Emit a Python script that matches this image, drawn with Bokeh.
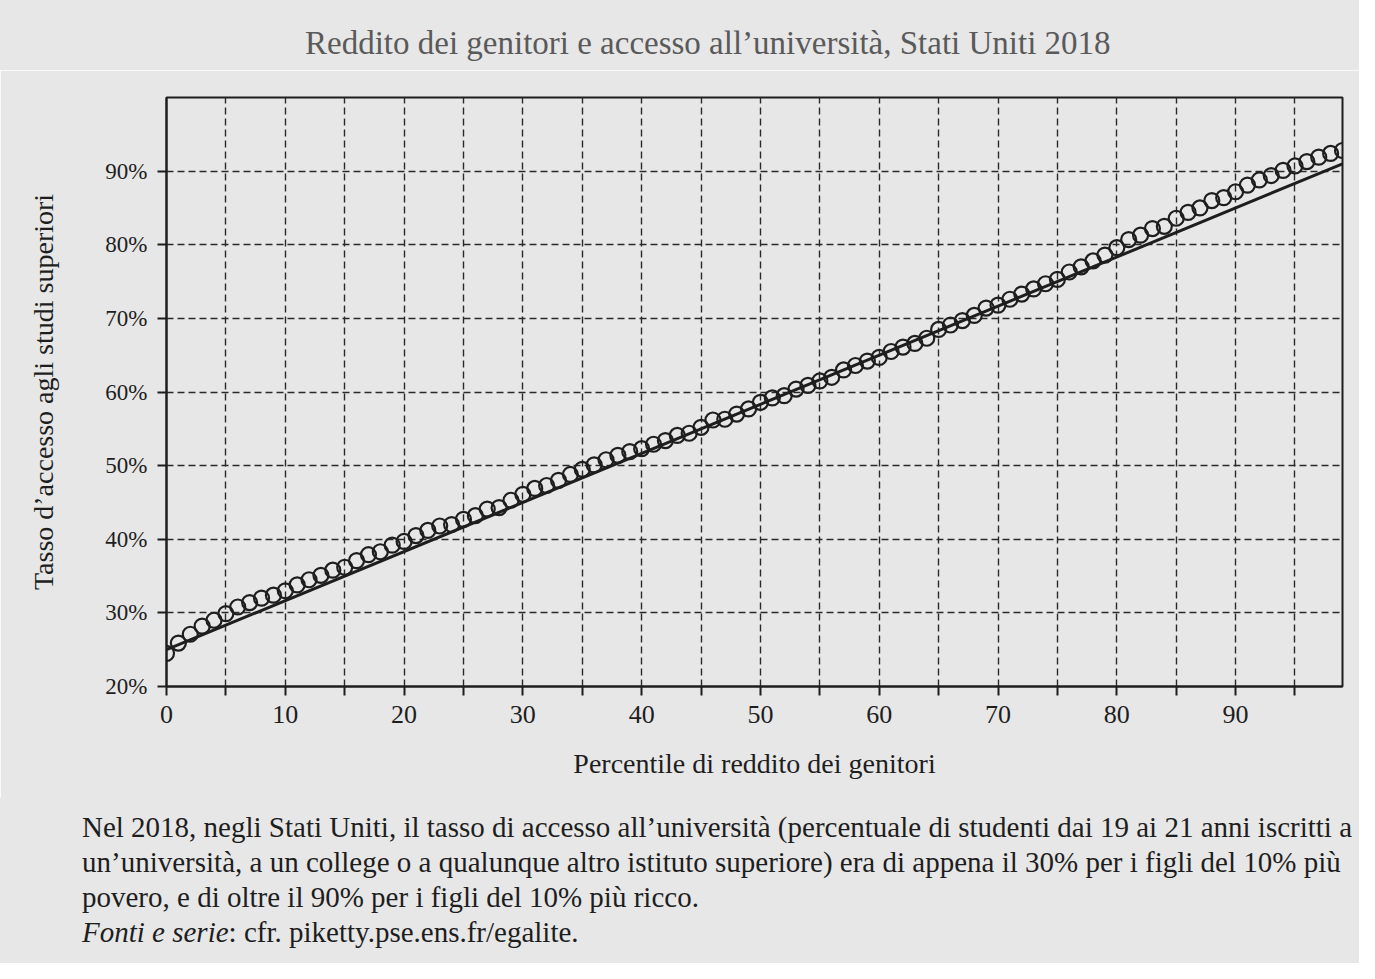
from bokeh.plotting import figure
from bokeh.models import FixedTicker, Div
from bokeh.layouts import column
from bokeh.embed import file_html
from bokeh.resources import INLINE

# ---- data ----
percentile = list(range(0, 100))
access_rate = [
    24.5, 25.9, 27.1, 28.2, 29.0, 29.9, 30.8, 31.4, 32.0, 32.4,
    33.0, 33.8, 34.5, 35.1, 35.8, 36.2, 37.1, 37.9, 38.3, 39.2,
    39.7, 40.5, 41.2, 41.8, 42.0, 42.7, 43.2, 44.1, 44.3, 45.3,
    46.1, 46.9, 47.3, 48.0, 48.8, 49.5, 50.1, 50.8, 51.4, 51.9,
    52.3, 52.9, 53.4, 54.1, 54.4, 55.2, 56.2, 56.3, 57.0, 57.7,
    58.6, 59.2, 59.5, 60.4, 60.9, 61.5, 62.0, 63.0, 63.6, 64.2,
    64.7, 65.5, 66.1, 66.6, 67.3, 68.5, 69.1, 69.7, 70.4, 71.4,
    71.8, 72.6, 73.3, 74.0, 74.7, 75.3, 76.3, 77.0, 77.8, 78.6,
    79.6, 80.7, 81.3, 82.2, 82.5, 83.6, 84.4, 85.0, 86.0, 86.4,
    87.2, 88.1, 88.8, 89.4, 90.1, 90.7, 91.3, 91.9, 92.4, 92.8,
]
trend_x = [0, 99]
trend_y = [25.0, 91.0]

x_ticks = list(range(0, 100, 5))
x_labels = {t: (str(t) if t % 10 == 0 else "") for t in x_ticks}
y_ticks = [20, 30, 40, 50, 60, 70, 80, 90]
y_labels = {t: f"{t}%" for t in y_ticks}

title_text = "Reddito dei genitori e accesso all\u2019università, Stati Uniti 2018"
x_title = "Percentile di reddito dei genitori"
y_title = "Tasso d\u2019accesso agli studi superiori"
caption_lines = [
    "Nel 2018, negli Stati Uniti, il tasso di accesso all\u2019università (percentuale di studenti dai 19 ai 21 anni iscritti a",
    "un\u2019università, a un college o a qualunque altro istituto superiore) era di appena il 30% per i figli del 10% più",
    "povero, e di oltre il 90% per i figli del 10% più ricco.",
]
source_italic = "Fonti e serie"
source_rest = ": cfr. piketty.pse.ens.fr/egalite."

FONT = "Liberation Serif"
INK = "#1e1e1e"
PAPER = "#e7e7e7"

W = 1359
TITLE_H = 70
FIG_H = 728
CAP_H = 963 - TITLE_H - FIG_H

# title above the chart
title_div = Div(
    text=f'<div style="font-family:\'{FONT}\';font-size:33px;line-height:40px;'
         f'color:#5a5a5a;white-space:nowrap;padding:23px 0 0 305px;">{title_text}</div>',
    width=W, height=TITLE_H, margin=(0, 0, 0, 0),
    styles={"background-color": PAPER},
)

p = figure(
    width=W, height=FIG_H,
    x_range=(0, 99), y_range=(20, 100),
    output_backend="svg", toolbar_location=None,
    min_border_left=166, min_border_right=17,
    min_border_top=27, min_border_bottom=112,
)
p.background_fill_color = PAPER
p.border_fill_color = PAPER
p.outline_line_color = INK
p.outline_line_width = 2

# grid
p.xgrid.ticker = FixedTicker(ticks=x_ticks)
p.ygrid.ticker = FixedTicker(ticks=y_ticks)
for g in (p.xgrid, p.ygrid):
    g.grid_line_color = "#2a2a2a"
    g.grid_line_dash = "7 4"
    g.grid_line_width = 1.4

# axes
p.xaxis.ticker = FixedTicker(ticks=x_ticks)
p.xaxis.major_label_overrides = x_labels
p.yaxis.ticker = FixedTicker(ticks=y_ticks)
p.yaxis.major_label_overrides = y_labels
for ax in (p.xaxis, p.yaxis):
    ax.axis_line_color = INK
    ax.axis_line_width = 2
    ax.major_tick_line_color = INK
    ax.major_tick_line_width = 2
    ax.major_tick_out = 9
    ax.major_tick_in = 0
    ax.minor_tick_line_color = None
    ax.major_label_text_font = FONT
    ax.major_label_text_color = INK
    ax.axis_label_text_font = FONT
    ax.axis_label_text_font_style = "normal"
    ax.axis_label_text_color = INK
p.xaxis.major_label_text_font_size = "26px"
p.yaxis.major_label_text_font_size = "23px"
p.xaxis.major_label_standoff = 10
p.yaxis.major_label_standoff = 10
p.xaxis.axis_label = x_title
p.yaxis.axis_label = y_title
p.xaxis.axis_label_text_font_size = "28px"
p.yaxis.axis_label_text_font_size = "28px"
p.xaxis.axis_label_standoff = 22
p.yaxis.axis_label_standoff = 43

# data
p.line(trend_x, trend_y, line_color=INK, line_width=3)
p.scatter(percentile, access_rate, marker="circle", size=15,
          fill_color=None, line_color=INK, line_width=2.2)

# caption below the chart
cap_html = "<br>".join(caption_lines)
cap_html += f"<br><i>{source_italic}</i>{source_rest}"
caption = Div(
    text=f'<div style="font-family:\'{FONT}\';font-size:29px;line-height:35px;'
         f'color:{INK};white-space:nowrap;padding:12px 0 0 82px;">{cap_html}</div>',
    width=W, height=CAP_H, margin=(0, 0, 0, 0),
    styles={"background-color": PAPER},
)

layout = column(title_div, p, caption, spacing=0)
open("out.html", "w").write(file_html(layout, INLINE))
